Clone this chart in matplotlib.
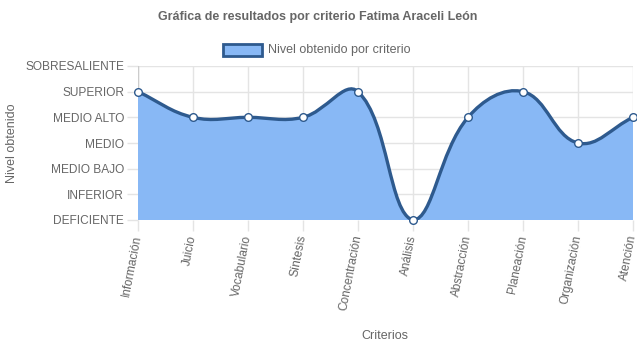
import numpy as np
import matplotlib
matplotlib.use('Agg')
import matplotlib.pyplot as plt
from matplotlib.path import Path
from matplotlib.patches import PathPatch, Rectangle

plt.rcParams['font.family'] = ['Liberation Sans', 'DejaVu Sans']

criterios = ['Información', 'Juicio', 'Vocabulario', 'Síntesis', 'Concentración',
             'Análisis', 'Abstracción', 'Planeación', 'Organización', 'Atención']
niveles = ['DEFICIENTE', 'INFERIOR', 'MEDIO BAJO', 'MEDIO', 'MEDIO ALTO',
           'SUPERIOR', 'SOBRESALIENTE']
valores = [5, 4, 4, 4, 5, 0, 4, 5, 3, 4]

FILL = '#88b8f5'
LINE = '#2e5a8e'
TXT = '#666666'
GRID = '#e4e4e4'


def spline_controls(px, py, tension=0.4):
    # Chart.js style spline control points (in pixel space)
    n = len(px)
    prev_cp, next_cp = [], []
    for i in range(n):
        p0 = (px[max(i - 1, 0)], py[max(i - 1, 0)])
        p1 = (px[i], py[i])
        p2 = (px[min(i + 1, n - 1)], py[min(i + 1, n - 1)])
        d01 = np.hypot(p1[0] - p0[0], p1[1] - p0[1])
        d12 = np.hypot(p2[0] - p1[0], p2[1] - p1[1])
        tot = d01 + d12
        s01 = d01 / tot if tot else 0
        s12 = d12 / tot if tot else 0
        fa, fb = tension * s01, tension * s12
        dx, dy = p2[0] - p0[0], p2[1] - p0[1]
        prev_cp.append((p1[0] - fa * dx, p1[1] - fa * dy))
        next_cp.append((p1[0] + fb * dx, p1[1] + fb * dy))
    return prev_cp, next_cp


fig = plt.figure(figsize=(6.37, 3.48), dpi=100)
ax = fig.add_axes([138 / 637, 1 - 220 / 348, 495 / 637, 154 / 348])
x = np.arange(len(criterios))
ax.set_xlim(0, len(criterios) - 1)
ax.set_ylim(0, len(niveles) - 1)

# spline in pixel space, capped to the chart area
pix = ax.transData.transform(np.column_stack([x, valores]))
prev_cp, next_cp = spline_controls(pix[:, 0], pix[:, 1])
lo = ax.transData.transform((0, 0))
hi = ax.transData.transform((len(criterios) - 1, len(niveles) - 1))


def cap(p):
    return (min(max(p[0], lo[0]), hi[0]), min(max(p[1], lo[1]), hi[1]))


verts = [tuple(pix[0])]
codes = [Path.MOVETO]
for i in range(len(x) - 1):
    verts += [cap(next_cp[i]), cap(prev_cp[i + 1]), tuple(pix[i + 1])]
    codes += [Path.CURVE4] * 3
inv = ax.transData.inverted()
dverts = inv.transform(np.array(verts))
line_path = Path(dverts, codes)

fill_verts = list(dverts) + [(x[-1], 0), (x[0], 0), tuple(dverts[0])]
fill_codes = codes + [Path.LINETO, Path.LINETO, Path.CLOSEPOLY]
ax.add_patch(PathPatch(Path(fill_verts, fill_codes), facecolor=FILL, edgecolor='none', zorder=2))
ax.add_patch(PathPatch(line_path, facecolor='none', edgecolor=LINE, lw=2.4, zorder=3))
ax.plot(x, valores, 'o', ms=5.5, mfc='white', mec=LINE, mew=1.0, zorder=4, clip_on=False)

ax.set_xticks(x)
ax.set_xticklabels(criterios, rotation=79, ha='right', va='center', rotation_mode='anchor')
ax.set_yticks(range(len(niveles)))
ax.set_yticklabels(niveles)
ax.tick_params(axis='both', colors=GRID, labelcolor=TXT, length=8, width=1, pad=2)
ax.tick_params(axis='y', labelsize=8.6)
ax.tick_params(axis='x', labelsize=8.6, pad=3)
ax.grid(True, color=GRID, lw=1, zorder=1)
ax.set_axisbelow(True)
for s in ax.spines.values():
    s.set_visible(False)
ax.axvline(0, color='#cccccc', lw=1, zorder=1)
ax.axhline(0, color='#cccccc', lw=1, zorder=1)

fig.text(318 / 637, 1 - 17 / 348, 'Gráfica de resultados por criterio Fatima Araceli León',
         ha='center', va='center', fontsize=9, fontweight='bold', color=TXT)
fig.patches.append(Rectangle((223 / 637, 1 - 56 / 348), 39 / 637, 12 / 348, transform=fig.transFigure,
                             facecolor=FILL, edgecolor=LINE, lw=2))
fig.text(268 / 637, 1 - 50 / 348, 'Nivel obtenido por criterio', ha='left', va='center',
         fontsize=9, color=TXT)
fig.text(12 / 637, 1 - 143 / 348, 'Nivel obtenido', rotation=90, ha='center', va='center',
         fontsize=9, color=TXT)
fig.text(385 / 637, 1 - 336 / 348, 'Criterios', ha='center', va='center', fontsize=9, color=TXT)

fig.savefig('out.png', dpi=100)
